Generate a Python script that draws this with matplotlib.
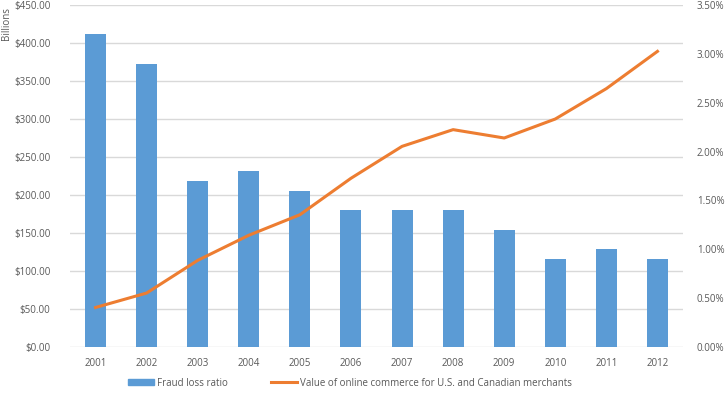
import matplotlib
matplotlib.use("Agg")
import matplotlib.pyplot as plt
from matplotlib.ticker import FuncFormatter
from matplotlib.patches import Patch
from matplotlib.lines import Line2D

plt.rcParams['font.family'] = ['Open Sans', 'DejaVu Sans']

years = ['2001', '2002', '2003', '2004', '2005', '2006',
         '2007', '2008', '2009', '2010', '2011', '2012']
# fraud loss ratio, percent (right axis)
fraud_ratio = [3.2, 2.9, 1.7, 1.8, 1.6, 1.4, 1.4, 1.4, 1.2, 0.9, 1.0, 0.9]
# online commerce, billions of dollars (left axis)
commerce = [52, 71, 114, 147, 174, 222, 264, 286, 275, 300, 340, 389]

bar_col = '#5B9BD5'
line_col = '#ED7D31'
txt_col = '#595959'
grid_col = '#D9D9D9'
fs = 7

fig = plt.figure(figsize=(7.25, 3.95), dpi=100)
ax = fig.add_axes([70 / 725, 1 - 347 / 395, 613 / 725, 342 / 395])
x = list(range(len(years)))

# left axis: dollars, with the grid
ax.set_xlim(-0.5, len(years) - 0.5)
ax.set_ylim(0, 450)
ax.set_yticks(range(0, 451, 50))
ax.yaxis.set_major_formatter(FuncFormatter(lambda v, p: '${:.2f}'.format(v)))
ax.grid(axis='y', color=grid_col, linewidth=1)
ax.set_xticks(x)
ax.set_xticklabels(years)
ax.tick_params(length=0, labelsize=fs, colors=txt_col, pad=8)
ax.tick_params(axis='y', pad=14)
for s in ax.spines.values():
    s.set_visible(False)
ax.set_ylabel('Billions', fontsize=fs, color=txt_col)
ax.yaxis.set_label_coords(-0.095, 0.945)

# right axis: fraud loss ratio bars
ax2 = ax.twinx()
ax2.bar(x, fraud_ratio, width=0.41, color=bar_col)
ax2.set_ylim(0, 3.5)
ax2.set_yticks([i * 0.5 for i in range(8)])
ax2.yaxis.set_major_formatter(FuncFormatter(lambda v, p: '{:.2f}%'.format(v)))
ax2.tick_params(length=0, labelsize=fs, colors=txt_col, pad=10)
for s in ax2.spines.values():
    s.set_visible(False)

# line on its own axis, same scale as the left one
ax3 = ax.twinx()
ax3.plot(x, commerce, color=line_col, linewidth=2.2)
ax3.set_ylim(0, 450)
ax3.set_yticks([])
for s in ax3.spines.values():
    s.set_visible(False)

handles = [Patch(color=bar_col),
           Line2D([0], [0], color=line_col, linewidth=2.2)]
labels = ['Fraud loss ratio',
          'Value of online commerce for U.S. and Canadian merchants']
fig.legend(handles, labels, loc='center', bbox_to_anchor=(350 / 725, 1 - 383 / 395),
           ncol=2, frameon=False, fontsize=fs, labelcolor=txt_col,
           handlelength=2.6, handleheight=0.6, columnspacing=4.5, handletextpad=0.3)

fig.savefig('out.png', dpi=100)
